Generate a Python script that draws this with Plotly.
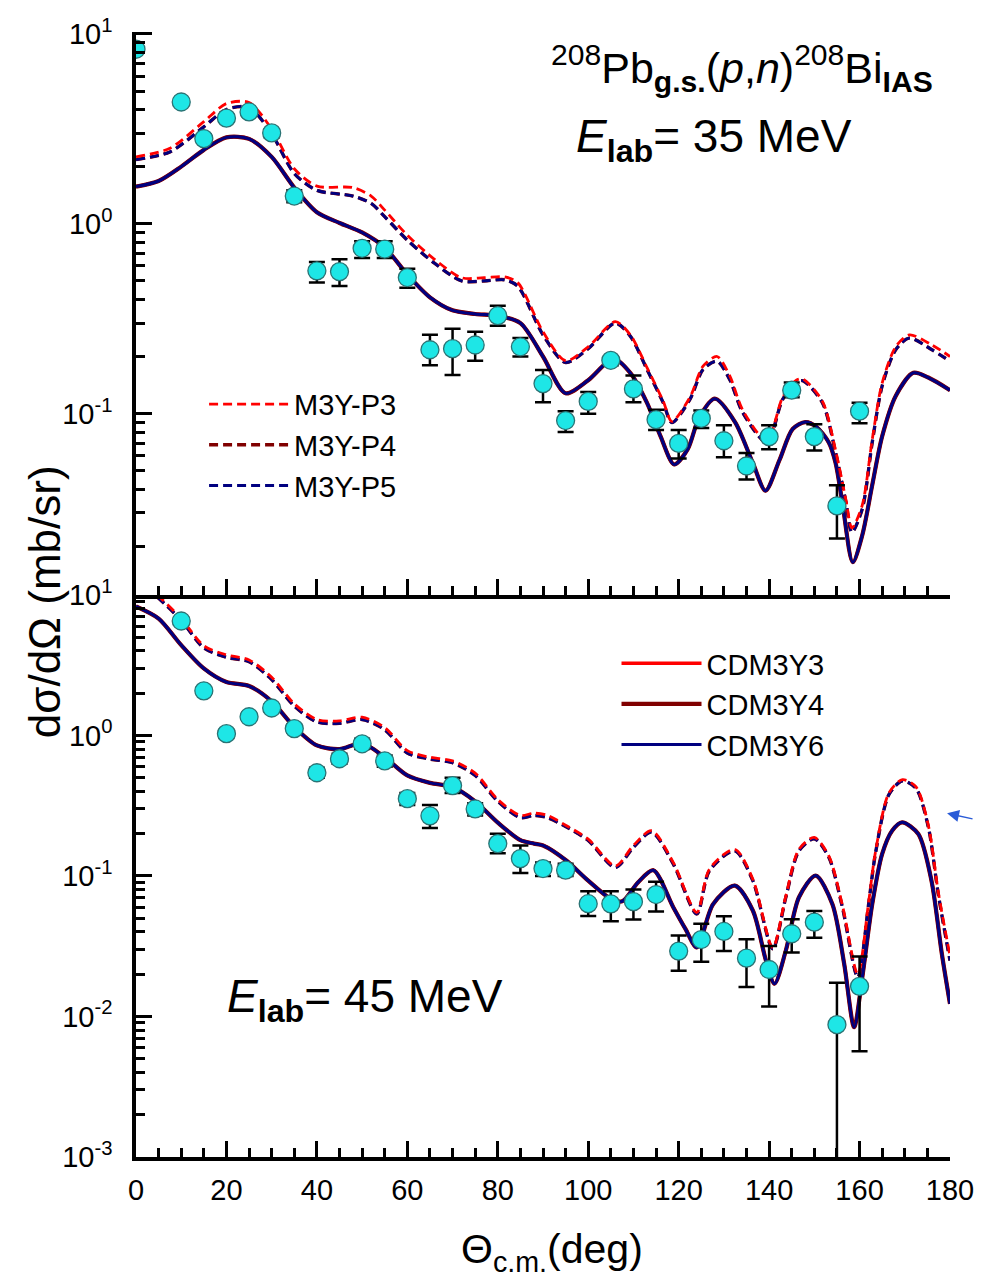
import plotly.graph_objects as go

# ---------------- data: 35 MeV (top panel) ----------------
exp35_theta = [0, 10, 15, 20, 25, 30, 35, 40, 45, 50, 55, 60, 65, 70, 75, 80, 85, 90, 95, 100,
               105, 110, 115, 120, 125, 130, 135, 140, 145, 150, 155, 160]
exp35_sig = [8.3, 4.38, 2.81, 3.6, 3.88, 3.01, 1.40, 0.565, 0.56, 0.743, 0.735, 0.521, 0.217, 0.22,
             0.23, 0.328, 0.225, 0.144, 0.092, 0.116, 0.191, 0.135, 0.093, 0.0697, 0.0944, 0.072,
             0.053, 0.0757, 0.133, 0.0757, 0.0327, 0.103]
exp35_hi = [8.5, 4.5, 2.95, 3.75, 4.05, 3.15, 1.5, 0.63, 0.65, 0.81, 0.81, 0.58, 0.26, 0.28, 0.27,
            0.37, 0.25, 0.17, 0.103, 0.13, 0.20, 0.159, 0.105, 0.082, 0.104, 0.087, 0.062, 0.087,
            0.146, 0.088, 0.042, 0.114]
exp35_lo = [8.1, 4.26, 2.68, 3.45, 3.7, 2.85, 1.3, 0.49, 0.47, 0.66, 0.66, 0.46, 0.18, 0.16, 0.19,
            0.29, 0.20, 0.115, 0.08, 0.10, 0.18, 0.115, 0.082, 0.058, 0.084, 0.059, 0.045, 0.065,
            0.122, 0.064, 0.022, 0.089]

cdm35_theta = [0, 5, 10, 15, 20, 25, 30, 35, 40, 45, 50, 55, 60, 65, 70, 75, 80, 85, 90, 95, 100,
               105.6, 109.3, 113, 116, 119, 122, 124.5, 128, 132.5, 136.4, 139.2, 142.3, 145.2, 148,
               150.5, 153.2, 154.7, 156.2, 158.5, 160.6, 162.8, 165, 168, 171.9, 175.2, 180]
cdm3y6_35 = [1.57, 1.68, 2.0, 2.45, 2.85, 2.8, 2.25, 1.55, 1.15, 1.01, 0.90, 0.75, 0.54, 0.41, 0.35,
             0.335, 0.328, 0.30, 0.20, 0.128, 0.15, 0.195, 0.164, 0.114, 0.076, 0.054, 0.065, 0.095,
             0.12, 0.09, 0.055, 0.0393, 0.057, 0.083, 0.0903, 0.085, 0.0705, 0.055, 0.034, 0.0165,
             0.0229, 0.042, 0.076, 0.124, 0.164, 0.155, 0.133]
cdm3y4_35 = cdm3y6_35
cdm3y3_35 = cdm3y6_35

m3y35_theta = [0, 7.5, 15, 20, 25, 30, 35, 40, 48, 52, 55, 60, 66, 72, 77, 81.5, 84.4, 90, 95, 100,
               106, 109.3, 113, 116.6, 118.5, 122.5, 125.4, 128.5, 131.3, 134.2, 139.5, 143, 146,
               147.5, 151.8, 154.7, 157, 158.3, 160.6, 162.8, 165, 168, 171, 176, 180]
m3yp5_35 = [2.18, 2.39, 3.24, 4.0, 4.1, 2.98, 1.84, 1.50, 1.40, 1.28, 1.09, 0.82, 0.62, 0.50, 0.50,
            0.507, 0.47, 0.26, 0.186, 0.22, 0.30, 0.256, 0.171, 0.114, 0.0897, 0.119, 0.171, 0.189,
            0.151, 0.101, 0.0705, 0.119, 0.146, 0.149, 0.114, 0.0624, 0.034, 0.0237, 0.0315, 0.0705,
            0.14, 0.217, 0.25, 0.217, 0.189]
m3yp4_35 = m3yp5_35
m3yp3_35 = [2.25, 2.5, 3.45, 4.3, 4.35, 3.15, 1.95, 1.58, 1.55, 1.4, 1.18, 0.87, 0.65, 0.52, 0.52,
            0.525, 0.49, 0.27, 0.19, 0.225, 0.305, 0.26, 0.175, 0.116, 0.091, 0.122, 0.178, 0.2,
            0.158, 0.104, 0.072, 0.122, 0.15, 0.152, 0.116, 0.064, 0.035, 0.025, 0.033, 0.073,
            0.145, 0.225, 0.26, 0.23, 0.2]

# ---------------- data: 45 MeV (bottom panel) ----------------
exp45_theta = [10, 15, 20, 25, 30, 35, 40, 45, 50, 55, 60, 65, 70, 75, 80, 85, 90, 95, 100, 105,
               110, 115, 120, 125, 130, 135, 140, 145, 150, 155, 160]
exp45_sig = [6.53, 2.08, 1.03, 1.36, 1.57, 1.12, 0.543, 0.683, 0.873, 0.66, 0.355, 0.268, 0.44,
             0.30, 0.17, 0.133, 0.113, 0.11, 0.0635, 0.0634, 0.0657, 0.0738, 0.0292, 0.0353,
             0.0403, 0.026, 0.0216, 0.0388, 0.0469, 0.00875, 0.0164]
exp45_hi = [6.9, 2.2, 1.1, 1.45, 1.67, 1.2, 0.59, 0.74, 0.95, 0.72, 0.39, 0.32, 0.50, 0.33, 0.20,
            0.165, 0.125, 0.122, 0.078, 0.078, 0.080, 0.091, 0.0377, 0.0458, 0.0516, 0.0354,
            0.0317, 0.0493, 0.0564, 0.0174, 0.0267]
exp45_lo = [6.2, 1.96, 0.96, 1.28, 1.48, 1.05, 0.50, 0.63, 0.80, 0.60, 0.32, 0.22, 0.39, 0.27,
            0.145, 0.105, 0.10, 0.10, 0.052, 0.0477, 0.049, 0.056, 0.0212, 0.0245, 0.0292, 0.0162,
            0.0118, 0.0286, 0.0363, 0.00001, 0.00565]

cdm45_theta = [0, 5, 10, 15, 20, 25, 30, 35, 40, 45, 50, 55, 60, 65, 70, 75, 80, 85, 88, 90, 95,
               100, 105, 107.5, 111, 114.4, 118.8, 121.5, 124, 127.6, 132.4, 136.4, 139.3, 141.2,
               143.7, 146.6, 150.3, 154, 156.6, 158.8, 160.6, 162.8, 165, 167.2, 169.4, 173, 175.9,
               178.2, 180]
cdm3y6_45 = [8.3, 6.8, 4.4, 3.0, 2.4, 2.25, 1.75, 1.15, 0.85, 0.80, 0.88, 0.70, 0.52, 0.46, 0.43,
             0.34, 0.24, 0.18, 0.17, 0.165, 0.13, 0.0927, 0.0687, 0.066, 0.09, 0.11, 0.06, 0.042,
             0.031, 0.063, 0.0855, 0.0568, 0.025, 0.0171, 0.0295, 0.0706, 0.1007, 0.063, 0.0237,
             0.0084, 0.019, 0.063, 0.1436, 0.21, 0.241, 0.199, 0.0927, 0.0279, 0.0123]
cdm3y4_45 = cdm3y6_45
cdm3y3_45 = cdm3y6_45

m3y45_theta = [0, 5, 10, 15, 20, 25, 30, 35, 40, 45, 50, 55, 60, 65, 70, 75, 80, 85, 88, 91, 95,
               100, 106, 110, 114, 118.8, 124, 126.8, 132.4, 136.4, 140.8, 143.7, 146.6, 150,
               153.2, 156.2, 159.6, 162, 163.5, 166.5, 169.5, 172.5, 175.2, 177.4, 180]
m3yp5_45 = [13, 9.5, 6.6, 4.2, 3.6, 3.35, 2.5, 1.62, 1.25, 1.22, 1.3, 1.1, 0.75, 0.68, 0.64, 0.52,
            0.34, 0.26, 0.27, 0.26, 0.225, 0.179, 0.115, 0.16, 0.205, 0.122, 0.0537, 0.109, 0.151,
            0.0927, 0.0303, 0.0706, 0.151, 0.184, 0.136, 0.06, 0.019, 0.063, 0.1436, 0.38, 0.476,
            0.42, 0.224, 0.0746, 0.025]
m3yp4_45 = m3yp5_45
m3yp3_45 = [13.5, 9.8, 6.8, 4.35, 3.75, 3.45, 2.6, 1.68, 1.3, 1.27, 1.35, 1.14, 0.78, 0.7, 0.66,
            0.54, 0.35, 0.27, 0.28, 0.27, 0.23, 0.183, 0.118, 0.165, 0.21, 0.125, 0.055, 0.112,
            0.155, 0.095, 0.031, 0.072, 0.155, 0.188, 0.139, 0.062, 0.02, 0.065, 0.147, 0.39,
            0.485, 0.43, 0.23, 0.077, 0.027]

x_ticks = [0, 20, 40, 60, 80, 100, 120, 140, 160, 180]
y_ticks_bottom = [0.001, 0.01, 0.1, 1, 10]
y_ticks_top = [0.1, 1, 10]


def sup_label(v):
    import math
    return "10<sup>%d</sup>" % round(math.log10(v))


def minor_vals(lo_exp, hi_exp):
    out = []
    for e in range(lo_exp, hi_exp):
        for m in range(2, 10):
            out.append(m * 10 ** e)
    return out


FONT = "Liberation Sans, Arial, Helvetica, sans-serif"
RED, DRED, NAVY = "#FF0000", "#800000", "#000080"
CYAN, CYAN_EDGE = "#1EE6E6", "#2A7374"
DASH = "9px,5px"

fig = go.Figure()


def add_panel(xa, ya, th_m, p3, p4, p5, th_c, c3, c4, c6, ex, ey, ehi, elo, legend_dash, legend_solid):
    # solid CDM curves
    for name, vals, col, w in [("CDM3Y3", c3, RED, 3.4), ("CDM3Y4", c4, DRED, 4.2), ("CDM3Y6", c6, NAVY, 3)]:
        fig.add_trace(go.Scatter(x=th_c, y=vals, mode="lines", name=name, xaxis=xa, yaxis=ya,
                                 line=dict(color=col, width=w, shape="spline", smoothing=0.8),
                                 legend="legend2", showlegend=legend_solid))
    # dashed M3Y curves
    for name, vals, col, w in [("M3Y-P4", p4, DRED, 3.4), ("M3Y-P5", p5, NAVY, 2.8), ("M3Y-P3", p3, RED, 2.8)]:
        fig.add_trace(go.Scatter(x=th_m, y=vals, mode="lines", name=name, xaxis=xa, yaxis=ya,
                                 line=dict(color=col, width=w, dash=DASH, shape="spline", smoothing=0.8),
                                 legend="legend", showlegend=legend_dash))
    # data
    plus = [h - v for h, v in zip(ehi, ey)]
    minus = [v - l for l, v in zip(elo, ey)]
    fig.add_trace(go.Scatter(x=ex, y=ey, mode="markers", xaxis=xa, yaxis=ya, showlegend=False,
                             marker=dict(size=18, color=CYAN, line=dict(color=CYAN_EDGE, width=1.3)),
                             error_y=dict(type="data", symmetric=False, array=plus, arrayminus=minus,
                                          color="black", thickness=2.5, width=8)))


add_panel("x2", "y2", m3y35_theta, m3yp3_35, m3yp4_35, m3yp5_35, cdm35_theta, cdm3y3_35, cdm3y4_35,
          cdm3y6_35, exp35_theta, exp35_sig, exp35_hi, exp35_lo, True, False)
add_panel("x", "y", m3y45_theta, m3yp3_45, m3yp4_45, m3yp5_45, cdm45_theta, cdm3y3_45, cdm3y4_45,
          cdm3y6_45, exp45_theta, exp45_sig, exp45_hi, exp45_lo, False, True)

legend_rank = {"M3Y-P3": 1, "M3Y-P4": 2, "M3Y-P5": 3, "CDM3Y3": 1, "CDM3Y4": 2, "CDM3Y6": 3}
for tr in fig.data:
    if tr.name in legend_rank:
        tr.legendrank = legend_rank[tr.name]

axis_common = dict(showline=True, linewidth=3.5, linecolor="black", showgrid=False, zeroline=False,
                   ticks="inside", tickwidth=3, tickcolor="black", ticklen=16,
                   tickfont=dict(family=FONT, size=29, color="black"))

W, H = 986, 1287
L, R, T, B = 136, 25, 28, 130
PW = W - L - R
split = (1157 - 593) / (1157 - 28)

fig.update_layout(
    width=W, height=H, margin=dict(l=L, r=R, t=T, b=B),
    paper_bgcolor="white", plot_bgcolor="white",
    font=dict(family=FONT, color="black"),
    xaxis=dict(domain=[0, 1], anchor="y", range=[0, 180], tickmode="array", tickvals=x_ticks,
               minor=dict(ticks="inside", ticklen=9, tickwidth=3, tickcolor="black", dtick=5),
               ticklabelstandoff=4, **axis_common),
    xaxis2=dict(domain=[0, 1], anchor="y2", matches="x", range=[0, 180], tickmode="array",
                tickvals=x_ticks, showticklabels=False,
                minor=dict(ticks="inside", ticklen=9, tickwidth=3, tickcolor="black", dtick=5),
                **axis_common),
    yaxis=dict(domain=[0, split], anchor="x", type="log", range=[-3, 1], tickmode="array",
               tickvals=y_ticks_bottom, ticktext=[sup_label(v) for v in y_ticks_bottom],
               minor=dict(ticks="inside", ticklen=9, tickwidth=3, tickcolor="black",
                          tickmode="array", tickvals=minor_vals(-3, 1)),
               ticklabelstandoff=14, **axis_common),
    yaxis2=dict(domain=[split, 1], anchor="x2", type="log", range=[-1.955, 1.01], tickmode="array",
                tickvals=y_ticks_top, ticktext=[sup_label(v) for v in y_ticks_top],
                minor=dict(ticks="inside", ticklen=9, tickwidth=3, tickcolor="black",
                           tickmode="array", tickvals=minor_vals(-2, 1)),
                ticklabelstandoff=14, **axis_common),
    legend=dict(x=(205 - L) / PW, y=(1157 - 376) / 1129, xanchor="left", yanchor="top",
                bgcolor="rgba(0,0,0,0)", font=dict(family=FONT, size=29, color="black"),
                itemwidth=80, tracegroupgap=0),
    legend2=dict(x=(623 - L) / PW, y=(1157 - 636) / 1129, xanchor="left", yanchor="top",
                 bgcolor="rgba(0,0,0,0)", font=dict(family=FONT, size=29, color="black"),
                 itemwidth=80, tracegroupgap=0),
)


def px_x(px):
    return (px - L) / PW


def px_y(py):
    return (1157 - py) / 1129


annotations = [
    dict(text="<sup>208</sup>Pb<sub><b>g.s.</b></sub>(<i>p</i>,<i>n</i>)<sup>208</sup>Bi<sub><b>IAS</b></sub>",
         x=px_x(750), y=px_y(64), size=43),
    dict(text="<i>E</i><sub><b>lab</b></sub>= 35 MeV", x=px_x(722), y=px_y(136), size=46),
    dict(text="<i>E</i><sub><b>lab</b></sub>= 45 MeV", x=px_x(368), y=px_y(999), size=46),
    dict(text="dσ/dΩ (mb/sr)", x=px_x(44), y=px_y(600), textangle=-90, size=44),
    dict(text="Θ<sub>c.m.</sub>(deg)", x=px_x(558), y=px_y(1252), size=41),
]
for a in annotations:
    fig.add_annotation(xref="paper", yref="paper", showarrow=False, xanchor="center",
                       yanchor="middle", text=a["text"], x=a["x"], y=a["y"],
                       textangle=a.get("textangle", 0),
                       font=dict(family=FONT, color="black", size=a["size"]))

# small blue pointer arrow at the right edge
fig.add_annotation(xref="paper", yref="paper", x=px_x(958), y=px_y(812), ax=27, ay=6,
                   showarrow=True, arrowhead=2, arrowsize=1.6, arrowwidth=1.5, arrowcolor="#2A5BD7",
                   text="")

fig.write_html("out.html")
